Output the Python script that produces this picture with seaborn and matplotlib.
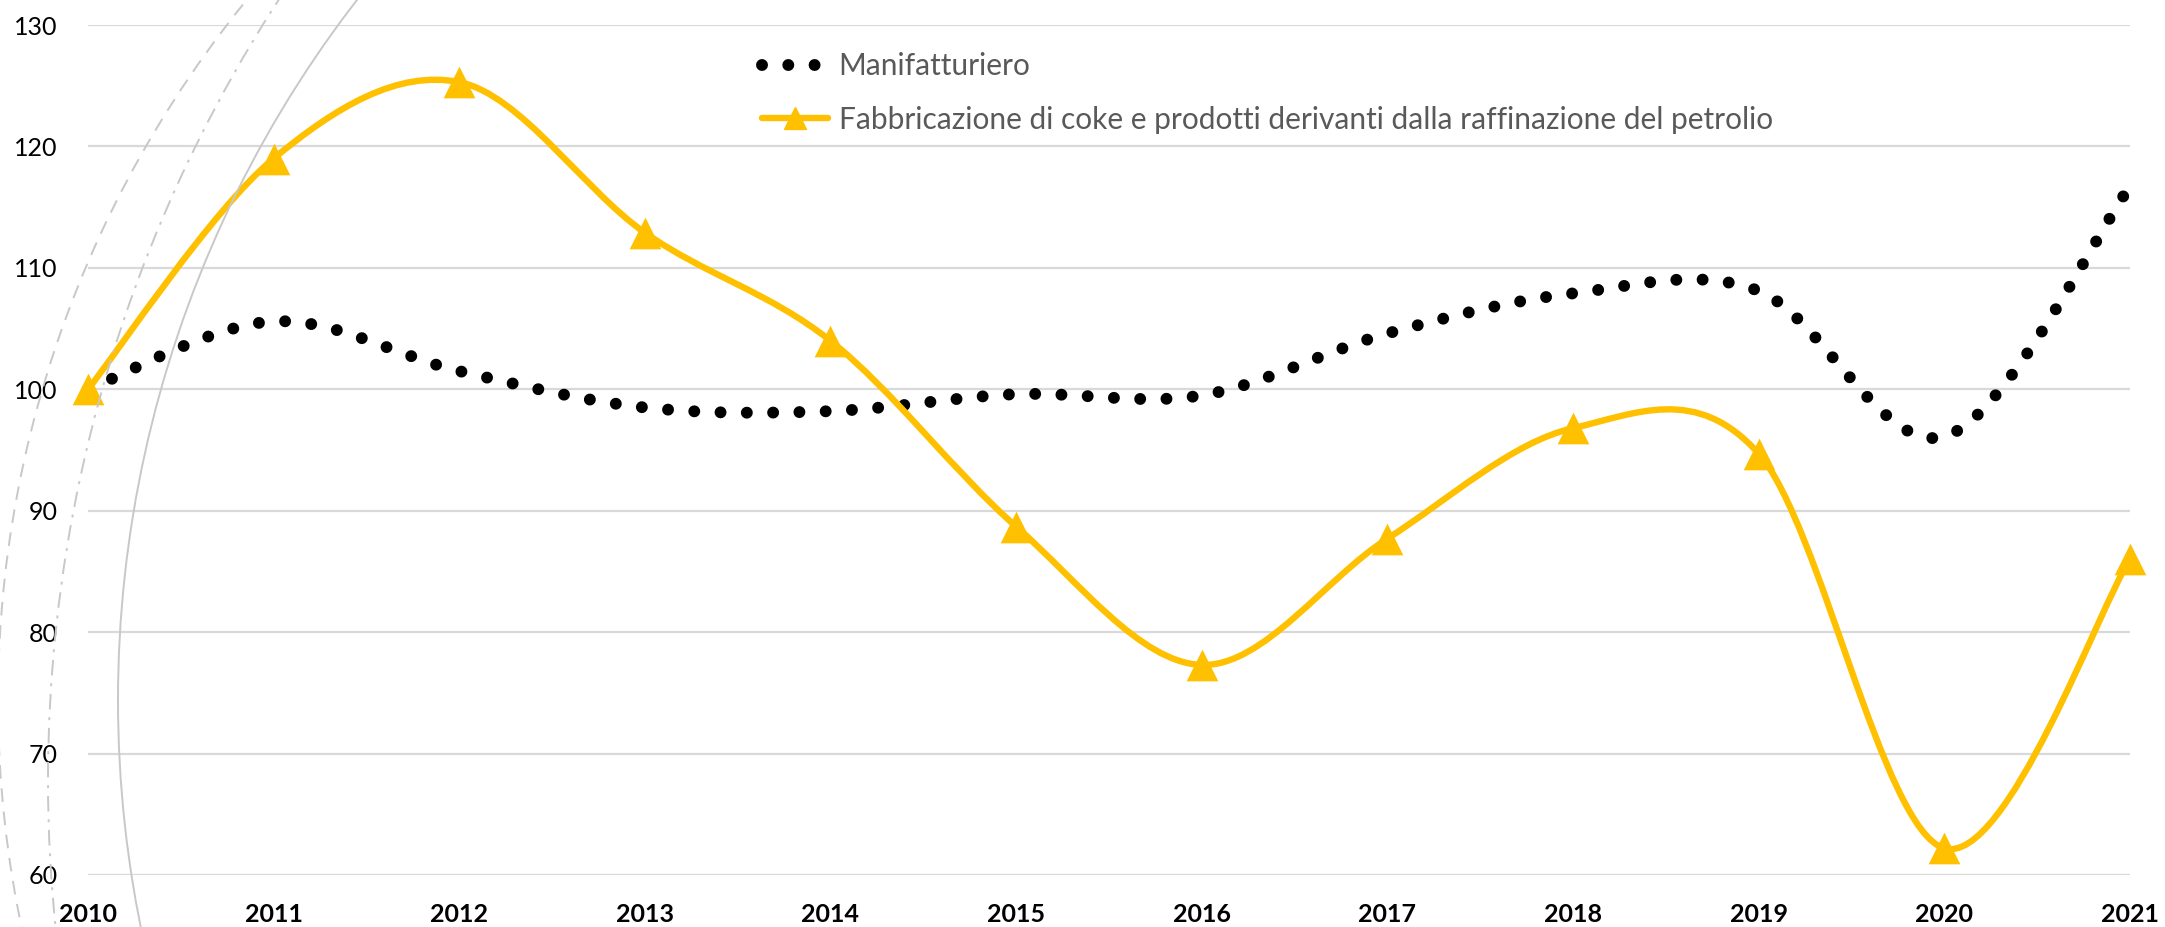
import numpy as np
import pandas as pd
import matplotlib
matplotlib.use("Agg")
import matplotlib.pyplot as plt
import seaborn as sns
from matplotlib.path import Path
from matplotlib.patches import PathPatch, Arc
from matplotlib.lines import Line2D

years = [2010, 2011, 2012, 2013, 2014, 2015, 2016, 2017, 2018, 2019, 2020, 2021]
manifatturiero = [100, 105.6, 101.5, 98.5, 98.2, 99.6, 99.5, 104.6, 107.9, 108.1, 96.1, 116.7]
coke_petrolio = [100, 119.0, 125.3, 112.9, 104.0, 88.7, 77.3, 87.7, 96.8, 94.7, 62.2, 86.0]
labels = ["Manifatturiero",
          "Fabbricazione di coke e prodotti derivanti dalla raffinazione del petrolio"]

YELLOW = "#FFC000"
GRID = "#D9D9D9"


def smooth_path(x, y):
    # excel-style smoothed line: cubic bezier segments, catmull-rom tangents
    x = np.asarray(x, float)
    y = np.asarray(y, float)
    n = len(x)
    verts = [(x[0], y[0])]
    codes = [Path.MOVETO]
    for i in range(n - 1):
        p0 = np.array([x[max(i - 1, 0)], y[max(i - 1, 0)]])
        p1 = np.array([x[i], y[i]])
        p2 = np.array([x[i + 1], y[i + 1]])
        p3 = np.array([x[min(i + 2, n - 1)], y[min(i + 2, n - 1)]])
        c1 = p1 + (p2 - p0) / 6.0
        c2 = p2 - (p3 - p1) / 6.0
        verts += [tuple(c1), tuple(c2), tuple(p2)]
        codes += [Path.CURVE4] * 3
    return Path(verts, codes)


sns.set_theme(style="white")
plt.rcParams["font.family"] = ["Lato", "DejaVu Sans"]

fig = plt.figure(figsize=(21.65, 9.27), dpi=100)
ax = fig.add_axes([0.0406, 0.0561, 0.9432, 0.9169])

# decorative arcs on the left (figure pixel geometry), only the left part of each circle
W, H = 2165.0, 927.0
for cx, cy, r, ls in [(1263, 700, 1145, "-"), (1483, 780, 1435, (0, (8, 4, 1.5, 4))),
                      (1108, 700, 1110, (0, (7, 5)))]:
    a = Arc((cx / W, 1 - cy / H), 2 * r / W, 2 * r / H, theta1=110, theta2=250,
            transform=fig.transFigure, edgecolor="#C8C8C8", lw=1.4, linestyle=ls, zorder=0)
    fig.patches.append(a)

df = pd.DataFrame({"anno": years, "manif": manifatturiero, "coke": coke_petrolio})

ax.add_patch(PathPatch(smooth_path(df["anno"], df["manif"]), fill=False, edgecolor="black",
                       lw=8.6, linestyle=(0, (0.001, 2.2)), capstyle="round", zorder=3,
                       clip_on=False))
ax.add_patch(PathPatch(smooth_path(df["anno"], df["coke"]), fill=False, edgecolor=YELLOW,
                       lw=4.6, zorder=4))
sns.scatterplot(data=df, x="anno", y="coke", marker="^", s=520, color=YELLOW,
                edgecolor=YELLOW, linewidth=0, ax=ax, zorder=5, clip_on=False)

ax.set_xlim(2010, 2021)
ax.set_ylim(60, 130)
ax.set_xticks(years)
ax.set_xticklabels([str(y) for y in years], fontsize=18, fontweight="bold", color="black")
ax.set_yticks(range(60, 131, 10))
ax.set_yticklabels([str(v) for v in range(60, 131, 10)], fontsize=18, color="black")
ax.tick_params(axis="both", length=0)
ax.tick_params(axis="y", pad=22)
ax.tick_params(axis="x", pad=20)
ax.set_xlabel("")
ax.set_ylabel("")
ax.grid(axis="y", color=GRID, lw=1.6)
ax.set_axisbelow(True)
for s in ax.spines.values():
    s.set_visible(False)
ax.patch.set_alpha(0)

handles = [Line2D([], [], color="black", lw=8.6, linestyle=(0, (0.001, 2.2)),
                  dash_capstyle="round"),
           Line2D([], [], color=YELLOW, lw=4.6, marker="^", markersize=16)]
leg = fig.legend(handles, labels, loc="upper left", bbox_to_anchor=(762 / W, 1 - 52 / H),
                 frameon=False, fontsize=21.5, handlelength=2.2, handletextpad=0.37,
                 labelspacing=0.86, borderpad=0, borderaxespad=0)
for t in leg.get_texts():
    t.set_color("#595959")

fig.savefig("out.png", dpi=100)
